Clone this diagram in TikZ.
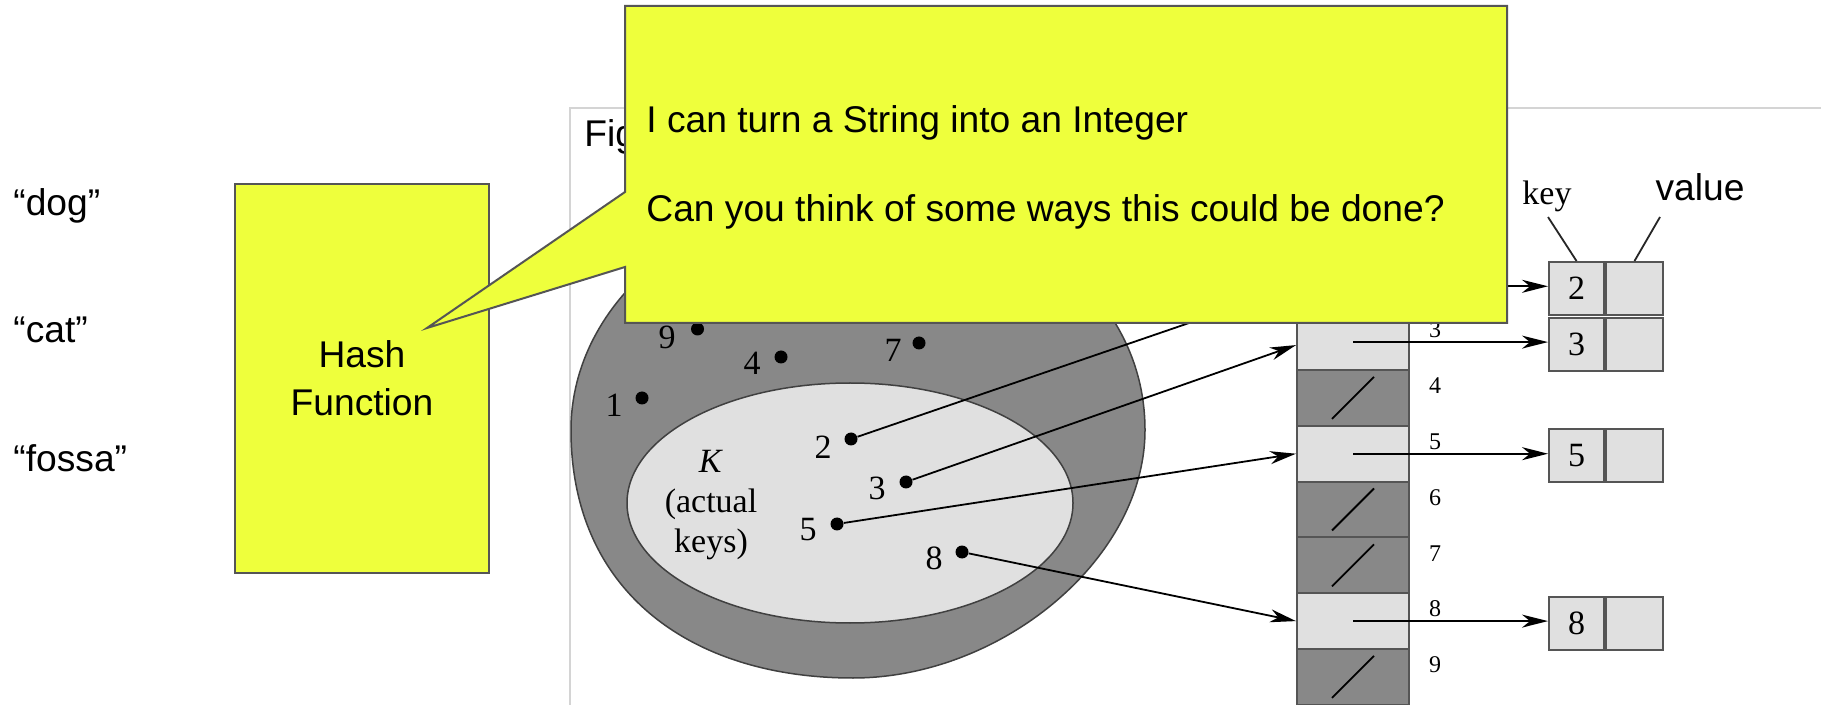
\documentclass[tikz,border=0pt]{standalone}
\usepackage{fontspec}
\setmainfont{Liberation Sans}
\newfontfamily\timesf{Liberation Serif}
\usetikzlibrary{arrows.meta}
\definecolor{calloutyellow}{RGB}{238,255,60}
\definecolor{darkfill}{RGB}{136,136,136}
\definecolor{lightfill}{RGB}{224,224,224}
\definecolor{edgegray}{RGB}{85,85,85}
\definecolor{framegray}{RGB}{212,212,212}
\newcommand{\bigsans}{\fontsize{18.6pt}{24pt}\selectfont}
\newcommand{\serifnum}{\timesf\fontsize{17pt}{20pt}\selectfont}
\newcommand{\serifsmall}{\timesf\fontsize{12pt}{14pt}\selectfont}
\tikzset{
  keydot/.style={circle, fill=black, inner sep=0pt, minimum size=6.5pt},
  keynum/.style={font=\serifnum, inner sep=0pt},
  slotlight/.style={rectangle, draw=edgegray, fill=lightfill, line width=1pt, minimum width=56pt, minimum height=27.9pt, inner sep=0pt},
  slotdark/.style={slotlight, fill=darkfill},
  slotnum/.style={font=\serifsmall, inner sep=0pt},
  keycell/.style={rectangle, draw=edgegray, fill=lightfill, line width=1pt, minimum width=27.5pt, minimum height=26.5pt, inner sep=0pt, font=\serifnum},
  valcell/.style={keycell, minimum width=28.5pt},
  arr/.style={-{Stealth[length=13pt, width=6.5pt, inset=4pt]}, line width=0.9pt, black},
  slash/.style={line width=0.9pt, black},
  pointer/.style={line width=0.9pt, black!85},
  yellowbox/.style={fill=calloutyellow, draw=edgegray, line width=1pt},
  bigtext/.style={font=\bigsans, inner sep=0pt}
}
\begin{document}
\begin{tikzpicture}[x=0.5pt, y=-0.5pt]
\path[use as bounding box, fill=white] (0,0) rectangle (1821,705);

% figure frame
\draw[framegray, line width=1pt] (1821,108) -- (570,108) -- (570,705);
\node[bigtext, anchor=base west] (fig) at (584,147) {Fig};

% universe U
\draw[fill=darkfill, draw=black!75, line width=0.75pt]
  (571,430) .. controls (571,595) and (695,678) .. (853,678)
            .. controls (1000,678) and (1145,560) .. (1145,430)
            .. controls (1145,290) and (1010,195) .. (857,195)
            .. controls (700,195) and (571,300) .. cycle;

% actual keys K
\draw[fill=lightfill, draw=black!75, line width=0.75pt] (850,503) ellipse [x radius=223, y radius=120];
\node[font=\serifnum, align=center, inner sep=0pt] (klabel) at (711,505) {\textit{K}\\(actual\\keys)};

% keys
\node[keydot] (k9) at (697.5,329) {};  \node[keynum] (l9) at (667,337) {9};
\node[keydot] (k4) at (781,357) {};    \node[keynum] (l4) at (752,363) {4};
\node[keydot] (k7) at (919,343) {};    \node[keynum] (l7) at (893,350) {7};
\node[keydot] (k1) at (642,398) {};    \node[keynum] (l1) at (614,405) {1};
\node[keydot] (k2) at (851,439) {};    \node[keynum] (l2) at (823,447) {2};
\node[keydot] (k3) at (906,482) {};    \node[keynum] (l3) at (877,488) {3};
\node[keydot] (k5) at (837,524) {};    \node[keynum] (l5) at (808,530) {5};
\node[keydot] (k8) at (962,552) {};    \node[keynum] (l8) at (934,558) {8};

% table slots
\node[slotlight] (s2) at (1353,286.3) {};
\node[slotlight] (s3) at (1353,342.1) {};
\node[slotdark]  (s4) at (1353,397.9) {};
\node[slotlight] (s5) at (1353,453.7) {};
\node[slotdark]  (s6) at (1353,509.5) {};
\node[slotdark]  (s7) at (1353,565.3) {};
\node[slotlight] (s8) at (1353,621.1) {};
\node[slotdark]  (s9) at (1353,676.9) {};
\foreach \i in {4,6,7,9}{
  \draw[slash] ([shift={(-21,21)}]s\i.center) -- ([shift={(21,-21)}]s\i.center);
}
\node[slotnum] (n3) at (1435,330.1) {3};
\node[slotnum] (n4) at (1435,385.9) {4};
\node[slotnum] (n5) at (1435,441.7) {5};
\node[slotnum] (n6) at (1435,497.5) {6};
\node[slotnum] (n7) at (1435,553.3) {7};
\node[slotnum] (n8) at (1435,609.1) {8};
\node[slotnum] (n9) at (1435,664.9) {9};

% elements
\node[keycell] (b2) at (1576.5,288.5) {2};  \node[valcell, anchor=west] (v2) at (b2.east) {};
\node[keycell] (b3) at (1576.5,344.5) {3};  \node[valcell, anchor=west] (v3) at (b3.east) {};
\node[keycell] (b5) at (1576.5,455.5) {5};  \node[valcell, anchor=west] (v5) at (b5.east) {};
\node[keycell] (b8) at (1576.5,623) {8};    \node[valcell, anchor=west] (v8) at (b8.east) {};

% key -> slot
\draw[arr] (k2) -- (s2.west);
\draw[arr] (k3) -- ([yshift=-1.5pt]s3.west);
\draw[arr] (k5) -- (s5.west);
\draw[arr] (k8) -- (s8.west);

% slot -> element
\draw[arr] (s2.center) -- (s2.center -| b2.west);
\draw[arr] (s3.center) -- (s3.center -| b3.west);
\draw[arr] (s5.center) -- (s5.center -| b5.west);
\draw[arr] (s8.center) -- (s8.center -| b8.west);

% key / value labels
\node[font=\serifnum, inner sep=0pt] (keylbl) at (1547,196) {key};
\node[bigtext] (vallbl) at (1700,187) {value};
\coordinate (keyfoot) at (1548,217);
\coordinate (valfoot) at (1660,217);
\draw[pointer] (keyfoot) -- (b2.north);
\draw[pointer] (valfoot) -- (v2.north);

% left part
\node[bigtext, anchor=base west] (dog) at (13,216) {“dog”};
\node[bigtext, anchor=base west] (cat) at (13,343) {“cat”};
\node[bigtext, anchor=base west] (fossa) at (13,472) {“fossa”};
\node[yellowbox, minimum width=127pt, minimum height=194.5pt, align=center, font=\bigsans, inner sep=0pt] (hash) at (362,378.5) {Hash\\Function};

% callout
\coordinate (tip) at (427,328);
\draw[yellowbox] (625,6) -- (1507,6) -- (1507,323) -- (625,323) -- (625,267) -- (tip) -- (625,192) -- cycle;
\node[bigtext, anchor=base west] (line1) at (646,133) {I can turn a String into an Integer};
\node[bigtext, anchor=base west] (line2) at (646,222) {Can you think of some ways this could be done?};
\end{tikzpicture}
\end{document}
